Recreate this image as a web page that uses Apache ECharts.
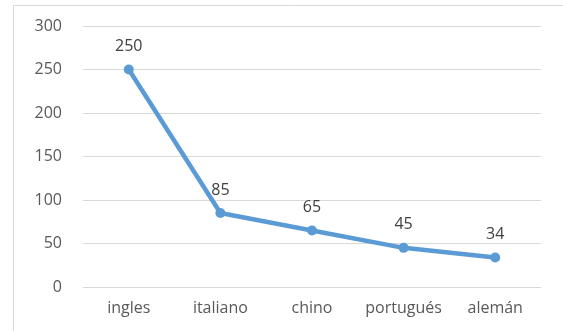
<!DOCTYPE html>
<html>
<head>
<meta charset="utf-8">
<script src="https://cdn.jsdelivr.net/npm/echarts@6/dist/echarts.min.js"></script>
<style>
  html, body { margin: 0; padding: 0; background: #fff; }
  #chart { width: 563px; height: 331px; }
</style>
</head>
<body>
<div id="chart"></div>
<script>
const categories = ['ingles', 'italiano', 'chino', 'portugués', 'alemán'];
const values = [250, 85, 65, 45, 34];
const yTicks = { min: 0, max: 300, interval: 50 };

const textColor = '#595959';
const font = 'Open Sans';

const chart = echarts.init(document.getElementById('chart'));
chart.setOption({
  animation: false,
  backgroundColor: '#ffffff',
  graphic: [{
    type: 'rect',
    shape: { x: 13.5, y: 5.5, width: 560, height: 340 },
    style: { fill: 'none', stroke: '#d9d9d9', lineWidth: 1 },
    silent: true
  }],
  grid: { left: 83, right: 22, top: 26, bottom: 44 },
  xAxis: {
    type: 'category',
    data: categories,
    boundaryGap: true,
    axisLine: { show: false },
    axisTick: { show: false },
    axisLabel: { interval: 0, color: textColor, fontFamily: font, fontSize: 16, margin: 13 }
  },
  yAxis: {
    type: 'value',
    min: yTicks.min,
    max: yTicks.max,
    interval: yTicks.interval,
    axisLine: { show: false },
    axisTick: { show: false },
    splitLine: { lineStyle: { color: '#d9d9d9', width: 1 } },
    axisLabel: { color: textColor, fontFamily: font, fontSize: 16, margin: 21 }
  },
  series: [{
    type: 'line',
    data: values,
    symbol: 'circle',
    symbolSize: 10,
    lineStyle: { color: '#5b9bd5', width: 4.5 },
    itemStyle: { color: '#5b9bd5' },
    label: {
      show: true,
      position: 'top',
      distance: 10,
      color: '#404040',
      fontFamily: font,
      fontSize: 16
    }
  }]
});
</script>
</body>
</html>
